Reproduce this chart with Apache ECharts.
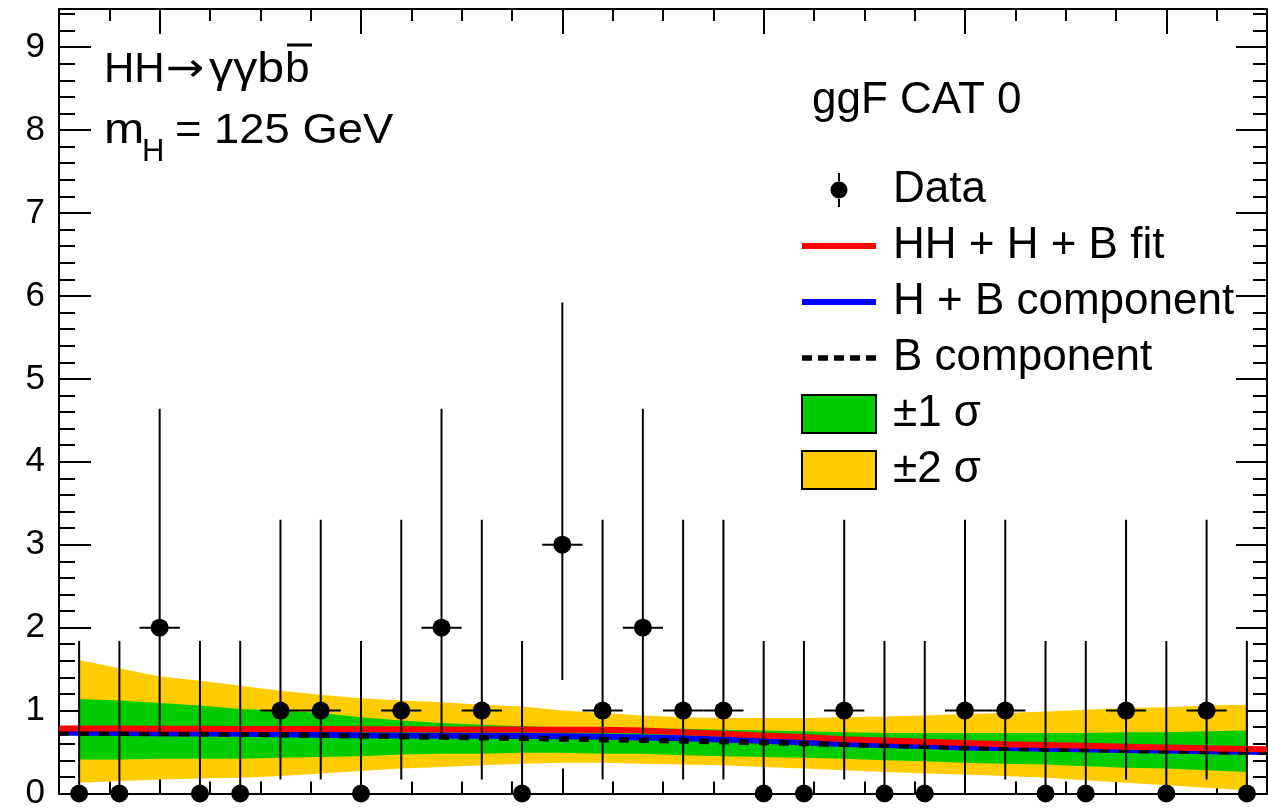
<!DOCTYPE html>
<html>
<head>
<meta charset="utf-8">
<script src="https://cdn.jsdelivr.net/npm/echarts@6/dist/echarts.min.js"></script>
<style>
html,body{margin:0;padding:0;background:#fff;}
#chart{width:1268px;height:811px;}
</style>
</head>
<body>
<div id="chart"></div>
<script>
// ---- data ----
const binCenters = [106,108,110,112,114,116,118,120,122,124,126,128,130,132,134,136,138,140,142,144,146,148,150,152,154,156,158,160,162,164];
const counts     = [0,0,2,0,0,1,1,0,1,2,1,0,3,1,2,1,1,0,0,1,0,0,1,1,0,0,1,0,1,0];
const errLow     = [0,0,0.71,0,0,0.17,0.17,0,0.17,0.71,0.17,0,1.37,0.17,0.71,0.17,0.17,0,0,0.17,0,0,0.17,0.17,0,0,0.17,0,0.17,0];
const errHigh    = [1.84,1.84,4.64,1.84,1.84,3.30,3.30,1.84,3.30,4.64,3.30,1.84,5.92,3.30,4.64,3.30,3.30,1.84,1.84,3.30,1.84,1.84,3.30,3.30,1.84,1.84,3.30,1.84,3.30,1.84];

// uncertainty bands at bin centres
const band2Hi = [1.61,1.51,1.41,1.36,1.30,1.24,1.19,1.15,1.12,1.10,1.07,1.05,1.00,0.97,0.94,0.92,0.91,0.91,0.91,0.92,0.93,0.94,0.96,0.97,0.99,1.01,1.03,1.04,1.06,1.07];
const band2Lo = [0.13,0.15,0.17,0.18,0.19,0.21,0.24,0.27,0.30,0.32,0.34,0.36,0.37,0.37,0.36,0.35,0.34,0.32,0.30,0.28,0.26,0.24,0.23,0.21,0.19,0.16,0.13,0.10,0.07,0.04];
const band1Hi = [1.14,1.12,1.09,1.06,1.02,1.00,0.97,0.92,0.88,0.85,0.83,0.81,0.80,0.79,0.78,0.78,0.77,0.76,0.75,0.74,0.73,0.73,0.73,0.73,0.73,0.73,0.74,0.74,0.75,0.76];
const band1Lo = [0.41,0.41,0.42,0.42,0.42,0.43,0.44,0.45,0.47,0.48,0.48,0.49,0.49,0.48,0.48,0.46,0.45,0.44,0.43,0.42,0.40,0.39,0.37,0.36,0.35,0.33,0.31,0.30,0.28,0.26];

// fit curves over the full axis range
const curveX   = [105,106,108,110,112,114,116,118,120,122,124,126,128,130,132,134,136,138,140,142,144,146,148,150,152,154,156,158,160,162,164,165];
const fitCurve = [0.785,0.785,0.783,0.781,0.780,0.779,0.778,0.777,0.776,0.775,0.773,0.772,0.771,0.770,0.768,0.760,0.740,0.720,0.700,0.680,0.655,0.640,0.625,0.610,0.595,0.585,0.575,0.565,0.555,0.545,0.537,0.533];
const hbCurve  = [0.733,0.733,0.730,0.727,0.723,0.719,0.714,0.708,0.702,0.698,0.697,0.696,0.694,0.690,0.684,0.676,0.666,0.652,0.635,0.617,0.598,0.585,0.574,0.556,0.548,0.540,0.533,0.525,0.518,0.510,0.503,0.500];
const bCurve   = [0.730,0.730,0.727,0.724,0.720,0.716,0.710,0.703,0.695,0.687,0.680,0.673,0.666,0.658,0.650,0.642,0.634,0.625,0.615,0.604,0.593,0.582,0.571,0.553,0.545,0.537,0.530,0.522,0.515,0.507,0.500,0.497];

const xMajorTicks = [110,120,130,140,150,160];
const xRange = [105,165];
const yRange = [0,9.46];

const legendNames = ['Data','HH + H + B fit','H + B component','B component','±1 σ','±2 σ'];

// ---- build ----
const FONT = "'Liberation Sans', Arial, Helvetica, sans-serif";
const zip = (xs, ys) => xs.map((x, i) => [x, ys[i]]);
const binHalf = (binCenters[1] - binCenters[0]) / 2;

const corners = 'M0,0L0.01,0L0,0.01Z M74,38L73.99,38L74,37.99Z ';
const iconSolid = 'path://' + corners + 'M0,16H74V22H0Z';
const iconDash = 'path://' + corners + 'M0,16.2H10V21.8H0Z M16,16.2H26V21.8H16Z M32,16.2H42V21.8H32Z M48,16.2H58V21.8H48Z M64,16.2H74V21.8H64Z';
const iconData = 'path://' + corners + 'M36,2H38V11H36Z M36,27H38V36H36Z M28.5,19A8.5,8.5 0 1 0 45.5,19A8.5,8.5 0 1 0 28.5,19Z';

function xAxisDef(pos, major) {
  const a = {
    type: 'value', position: pos, min: xRange[0], max: xRange[1],
    axisLine: { show: major, onZero: false, lineStyle: { color: '#000', width: 2 } },
    axisLabel: { show: false }, splitLine: { show: false },
    axisTick: { show: true, inside: true, length: major ? 25 : 12, lineStyle: { color: '#000', width: 2 } }
  };
  if (major) a.axisTick.customValues = xMajorTicks; else a.interval = 2.5;
  return a;
}
function yAxisDef(pos, major) {
  return {
    type: 'value', position: pos, min: yRange[0], max: yRange[1], interval: major ? 1 : 0.2,
    axisLine: { show: major, onZero: false, lineStyle: { color: '#000', width: 2 } },
    splitLine: { show: false },
    axisTick: { show: true, inside: true, length: major ? (pos === 'left' ? 32 : 31) : (pos === 'left' ? 16 : 14), lineStyle: { color: '#000', width: 2 } },
    axisLabel: (major && pos === 'left') ? { show: true, fontSize: 35, color: '#000', fontFamily: FONT, margin: 14, showMaxLabel: false } : { show: false }
  };
}

function bandSeries(name, color, lo, hi) {
  return {
    name, type: 'custom', z: 1, silent: true, clip: false,
    itemStyle: { color },
    data: binCenters.map((x, i) => [x, lo[i], hi[i]]),
    encode: { x: 0, y: [1, 2] },
    renderItem: function (params, api) {
      if (params.dataIndexInside !== 0) return null;
      const n = params.dataInsideLength;
      const upper = [], lower = [];
      for (let k = 0; k < n; k++) {
        const x = api.value(0, k);
        upper.push(api.coord([x, api.value(2, k)]));
        lower.push(api.coord([x, api.value(1, k)]));
      }
      return { type: 'polygon', shape: { points: upper.concat(lower.reverse()) }, style: { fill: color, stroke: null } };
    }
  };
}

const option = {
  animation: false,
  backgroundColor: '#fff',
  grid: { left: 59, right: 1, top: 9, bottom: 13, containLabel: false },
  xAxis: [xAxisDef('bottom', true), xAxisDef('bottom', false), xAxisDef('top', true), xAxisDef('top', false)],
  yAxis: [yAxisDef('left', true), yAxisDef('left', false), yAxisDef('right', true), yAxisDef('right', false)],
  legend: {
    orient: 'vertical', left: 801, top: 168, padding: 0,
    itemWidth: 74, itemHeight: 38, itemGap: 12, selectedMode: false,
    textStyle: { fontSize: 44, lineHeight: 43, color: '#000', fontFamily: FONT, padding: [0, 0, 0, 12] },
    data: [
      { name: legendNames[0], icon: iconData, itemStyle: { color: '#000' } },
      { name: legendNames[1], icon: iconSolid },
      { name: legendNames[2], icon: iconSolid },
      { name: legendNames[3], icon: iconDash },
      { name: legendNames[4], icon: 'rect', itemStyle: { color: '#00cc00', borderColor: '#000', borderWidth: 2 } },
      { name: legendNames[5], icon: 'rect', itemStyle: { color: '#ffcc00', borderColor: '#000', borderWidth: 2 } }
    ]
  },
  series: [
    bandSeries(legendNames[5], '#ffcc00', band2Lo, band2Hi),
    bandSeries(legendNames[4], '#00cc00', band1Lo, band1Hi),
    { name: legendNames[2], type: 'line', symbol: 'none', z: 2, color: '#0000ff',
      data: zip(curveX, hbCurve), lineStyle: { color: '#0000ff', width: 6 } },
    { name: legendNames[3], type: 'line', symbol: 'none', z: 2, color: '#000',
      data: zip(curveX, bCurve), lineStyle: { color: '#000', width: 5.5, type: [10, 10] } },
    { name: legendNames[1], type: 'line', symbol: 'none', z: 2, color: '#ff0000',
      data: zip(curveX, fitCurve), lineStyle: { color: '#ff0000', width: 6 } },
    { name: legendNames[0], type: 'custom', z: 3, clip: false, itemStyle: { color: '#000' },
      data: binCenters.map((x, i) => [x, counts[i], errLow[i], errHigh[i]]),
      encode: { x: 0, y: 1 },
      renderItem: function (params, api) {
        const x = api.value(0), y = api.value(1), lo = api.value(2), hi = api.value(3);
        const pLo = api.coord([x, lo]), pHi = api.coord([x, hi]);
        const children = [{ type: 'line', shape: { x1: pLo[0], y1: pLo[1], x2: pHi[0], y2: pHi[1] }, style: { stroke: '#000', lineWidth: 2 } }];
        if (y > 0) {
          const a = api.coord([x - binHalf, y]), b = api.coord([x + binHalf, y]);
          children.push({ type: 'line', shape: { x1: a[0], y1: a[1], x2: b[0], y2: b[1] }, style: { stroke: '#000', lineWidth: 2 } });
        }
        return { type: 'group', children };
      }
    },
    { name: legendNames[0], type: 'scatter', z: 4, clip: false, symbol: 'circle', symbolSize: 18,
      itemStyle: { color: '#000', opacity: 1 }, data: zip(binCenters, counts) }
  ],
  graphic: [
    { type: 'text', x: 104, y: 70, z: 10, style: { text: 'HH', font: '42px ' + FONT, fill: '#000', align: 'left', verticalAlign: 'middle' } },
    { type: 'text', x: 166, y: 71, z: 10, scaleX: 1.15, style: { text: '→', font: "40px 'DejaVu Sans', sans-serif", fill: '#000', align: 'left', verticalAlign: 'middle' } },
    { type: 'text', x: 209, y: 70, z: 10, scaleX: 1.15, style: { text: 'γγb', font: '42px ' + FONT, fill: '#000', align: 'left', verticalAlign: 'middle' } },
    { type: 'text', x: 285, y: 70, z: 10, scaleX: 1.05, style: { text: 'b', font: '42px ' + FONT, fill: '#000', align: 'left', verticalAlign: 'middle' } },
    { type: 'rect', z: 10, shape: { x: 287, y: 43.5, width: 25, height: 3 }, style: { fill: '#000' } },
    { type: 'text', x: 104, y: 131, z: 10, scaleX: 1.15, style: { text: 'm', font: '42px ' + FONT, fill: '#000', align: 'left', verticalAlign: 'middle' } },
    { type: 'text', x: 142, y: 152, z: 10, style: { text: 'H', font: '31px ' + FONT, fill: '#000', align: 'left', verticalAlign: 'middle' } },
    { type: 'text', x: 175, y: 131, z: 10, scaleX: 1.08, style: { text: '= 125 GeV', font: '42px ' + FONT, fill: '#000', align: 'left', verticalAlign: 'middle' } },
    { type: 'text', x: 812, y: 101, z: 10, style: { text: 'ggF CAT 0', font: '44px ' + FONT, fill: '#000', align: 'left', verticalAlign: 'middle' } }
  ]
};

const chart = echarts.init(document.getElementById('chart'), null, { renderer: 'canvas' });
chart.setOption(option);
</script>
</body>
</html>
